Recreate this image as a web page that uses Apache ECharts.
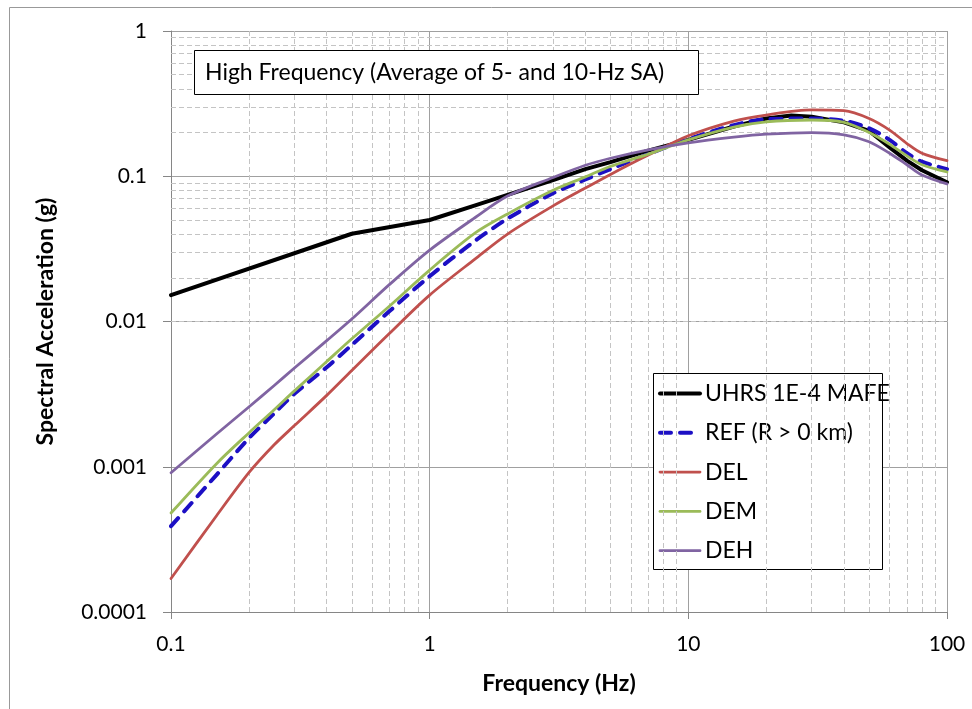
<!DOCTYPE html>
<html>
<head>
<meta charset="utf-8">
<script src="https://cdn.jsdelivr.net/npm/echarts@6/dist/echarts.min.js"></script>
<style>
    html, body { margin: 0; padding: 0; background: #fff; }
    #chart { width: 972px; height: 709px; }
</style>
</head>
<body>
<div id="chart"></div>
<script>
const freqs = [0.1, 0.15, 0.2, 0.25, 0.3, 0.4, 0.5, 0.7, 1, 1.5, 2, 3, 4, 5, 7, 10, 15, 20, 30, 40, 50, 60, 70, 80, 100];
const uhrsFreqs = [0.1, 0.5, 1, 1.5, 2, 3, 4, 5, 7, 10, 15, 20, 25, 30, 40, 50, 60, 70, 80, 100];

const uhrs = [0.0152, 0.0402, 0.05, 0.063, 0.0744, 0.094, 0.112, 0.125, 0.15, 0.178, 0.22, 0.25, 0.262, 0.257, 0.235, 0.205, 0.158, 0.128, 0.11, 0.091];
const ref = [0.00039, 0.00088, 0.00157, 0.00232, 0.00318, 0.00484, 0.0069, 0.0118, 0.0205, 0.036, 0.051, 0.0764, 0.095, 0.112, 0.142, 0.18, 0.225, 0.247, 0.25, 0.241, 0.214, 0.178, 0.144, 0.126, 0.112];
const del = [0.00017, 0.00046, 0.00091, 0.00141, 0.00192, 0.0031, 0.0046, 0.0083, 0.0152, 0.027, 0.04, 0.0625, 0.083, 0.103, 0.14, 0.19, 0.24, 0.264, 0.286, 0.283, 0.25, 0.208, 0.168, 0.144, 0.128];
const dem = [0.00048, 0.00105, 0.00171, 0.00246, 0.00333, 0.0053, 0.0076, 0.0128, 0.0226, 0.0407, 0.055, 0.08, 0.099, 0.117, 0.142, 0.178, 0.218, 0.237, 0.244, 0.235, 0.2, 0.166, 0.138, 0.12, 0.107];
const deh = [0.00091, 0.00168, 0.00258, 0.00361, 0.00478, 0.00738, 0.0104, 0.018, 0.031, 0.052, 0.073, 0.098, 0.119, 0.133, 0.152, 0.17, 0.186, 0.195, 0.2, 0.193, 0.173, 0.144, 0.12, 0.102, 0.0886];

const seriesNames = ['UHRS 1E-4 MAFE', 'REF (R > 0 km)', 'DEL', 'DEM', 'DEH'];
const titleText = 'High Frequency (Average of 5- and 10-Hz SA)';

// minor grid positions (2..9 in each decade)
const minorX = [];
[0.1, 1, 10].forEach(d => { for (let k = 2; k <= 9; k++) minorX.push(+(d * k).toPrecision(6)); });
const minorY = [];
[0.0001, 0.001, 0.01, 0.1].forEach(d => { for (let k = 2; k <= 9; k++) minorY.push(+(d * k).toPrecision(6)); });

const pairs = (xs, ys) => xs.map((x, i) => [x, ys[i]]);
const font = 'Lato, "Liberation Sans", sans-serif';

const chart = echarts.init(document.getElementById('chart'), null, { renderer: 'canvas' });

const lineSeries = (name, xs, ys, color, width, type, smooth) => ({
    name: name,
    type: 'line',
    data: pairs(xs, ys),
    symbol: 'none',
    smooth: smooth,
    z: 5,
    lineStyle: { color: color, width: width, type: type || 'solid', cap: 'round', join: 'round' },
    itemStyle: { color: color, opacity: 0 }
});

chart.setOption({
    animation: false,
    backgroundColor: '#fff',
    grid: { left: 171, right: 25, top: 31, bottom: 97 },
    xAxis: {
        type: 'log', logBase: 10, min: 0.1, max: 100,
        name: 'Frequency (Hz)', nameLocation: 'middle', nameGap: 60,
        nameTextStyle: { fontFamily: font, fontSize: 23, fontWeight: 'bold', color: '#000' },
        axisLine: { lineStyle: { color: '#868686', width: 1 } },
        axisTick: { length: 7, lineStyle: { color: '#868686' } },
        axisLabel: { margin: 22, fontFamily: font, fontSize: 21, color: '#000', formatter: v => String(+v.toPrecision(6)) },
        splitLine: { show: true, lineStyle: { color: '#a0a0a0', width: 1 } }
    },
    yAxis: {
        type: 'log', logBase: 10, min: 0.0001, max: 1,
        name: 'Spectral Acceleration (g)', nameLocation: 'middle', nameGap: 114,
        nameTextStyle: { fontFamily: font, fontSize: 23, fontWeight: 'bold', color: '#000' },
        axisLine: { show: true, lineStyle: { color: '#868686', width: 1 } },
        axisTick: { show: true, length: 8, lineStyle: { color: '#868686' } },
        axisLabel: { margin: 24, fontFamily: font, fontSize: 21, color: '#000', formatter: v => String(+v.toPrecision(6)) },
        splitLine: { show: true, lineStyle: { color: '#a0a0a0', width: 1 } }
    },
    legend: {
        orient: 'vertical',
        left: 658, top: 382,
        padding: 0,
        itemWidth: 40, itemHeight: 14, itemGap: 16.3,
        data: seriesNames,
        itemStyle: { opacity: 0 },
        lineStyle: { width: 'inherit' },
        textStyle: { fontFamily: font, fontSize: 23, color: '#000', lineHeight: 20 }
    },
    graphic: [
        { type: 'rect', z: 1, silent: true, shape: { x: 9.5, y: 7.5, width: 1000, height: 800 },
          style: { fill: 'none', stroke: '#999', lineWidth: 1 } },
        { type: 'rect', z: 10, silent: true, shape: { x: 194.5, y: 50.5, width: 504, height: 44 },
          style: { fill: '#fff', stroke: '#000', lineWidth: 1 } },
        { type: 'text', z: 11, silent: true, x: 205, y: 73,
          style: { text: titleText, font: '23px ' + font, fill: '#000', verticalAlign: 'middle' } },
        { type: 'rect', z: 3, silent: true, shape: { x: 653.5, y: 373.5, width: 229, height: 196 },
          style: { fill: '#fff', stroke: '#000', lineWidth: 1 } }
    ],
    series: [
        {
            name: 'minor-grid',
            type: 'line',
            data: [],
            silent: true,
            z: 1,
            markLine: {
                silent: true,
                symbol: ['none', 'none'],
                label: { show: false },
                animation: false,
                lineStyle: { color: '#c4c4c4', width: 1, type: [5, 3] },
                data: minorX.map(v => ({ xAxis: v })).concat(minorY.map(v => ({ yAxis: v })))
            }
        },
        lineSeries(seriesNames[0], uhrsFreqs, uhrs, '#000000', 4, 'solid', false),
        lineSeries(seriesNames[1], freqs, ref, '#1c0fc4', 4, [11, 9], 0.3),
        lineSeries(seriesNames[2], freqs, del, '#c0504d', 2.8, 'solid', 0.3),
        lineSeries(seriesNames[3], freqs, dem, '#9bbb59', 2.8, 'solid', 0.3),
        lineSeries(seriesNames[4], freqs, deh, '#8064a2', 2.8, 'solid', 0.3)
    ]
});
</script>
</body>
</html>
